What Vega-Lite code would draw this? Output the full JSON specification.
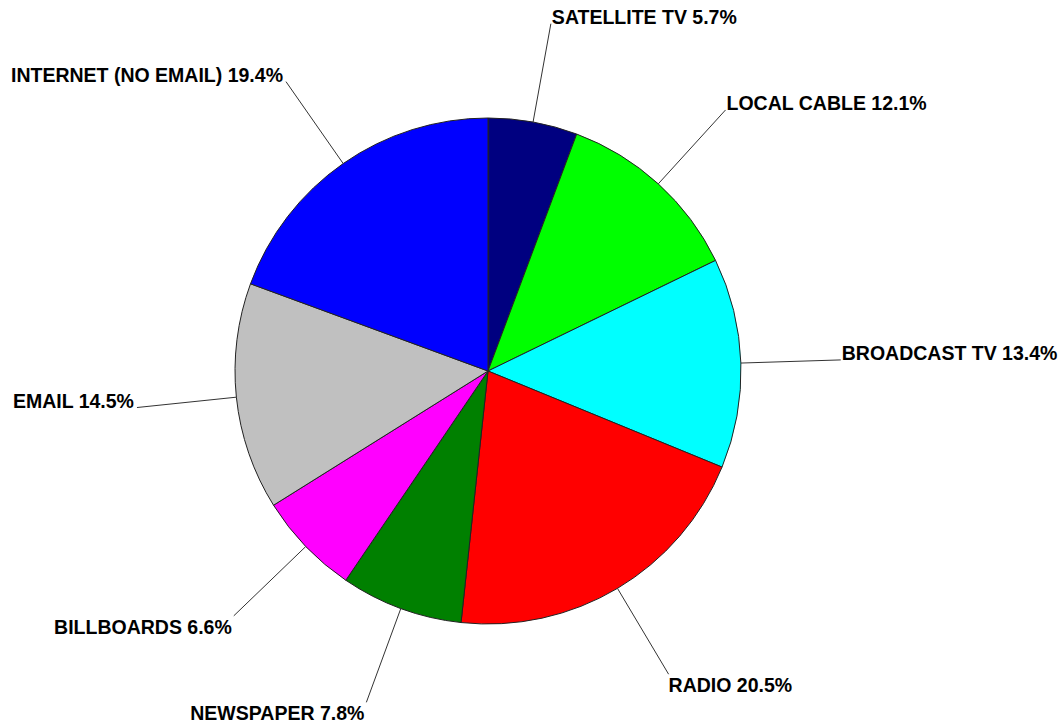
{
  "$schema": "https://vega.github.io/schema/vega-lite/v6.json",
  "width": 1059,
  "height": 725,
  "autosize": {"type": "fit", "contains": "padding"},
  "padding": 0,
  "background": "white",
  "config": {"view": {"stroke": null}},
  "data": {
    "values": [
      {"category": "SATELLITE TV", "share": 5.7, "order": 1},
      {"category": "LOCAL CABLE", "share": 12.1, "order": 2},
      {"category": "BROADCAST TV", "share": 13.4, "order": 3},
      {"category": "RADIO", "share": 20.5, "order": 4},
      {"category": "NEWSPAPER", "share": 7.8, "order": 5},
      {"category": "BILLBOARDS", "share": 6.6, "order": 6},
      {"category": "EMAIL", "share": 14.5, "order": 7},
      {"category": "INTERNET (NO EMAIL)", "share": 19.4, "order": 8}
    ]
  },
  "transform": [
    {"window": [{"op": "sum", "field": "share", "as": "cum"}], "sort": [{"field": "order"}], "frame": [null, 0]},
    {"calculate": "(datum.cum - datum.share / 2) / 100 * 2 * PI", "as": "mid"},
    {"calculate": "sin(datum.mid)", "as": "lx1"},
    {"calculate": "cos(datum.mid)", "as": "ly1"},
    {"calculate": "1.395 * sin(datum.mid)", "as": "lx2"},
    {"calculate": "1.395 * cos(datum.mid)", "as": "ly2"},
    {"calculate": "datum.category + ' ' + format(datum.share, '.1f') + '%'", "as": "label"}
  ],
  "layer": [
    {
      "mark": {"type": "arc", "outerRadius": 253, "stroke": "#222222", "strokeWidth": 1},
      "encoding": {
        "theta": {"field": "share", "type": "quantitative", "stack": true},
        "order": {"field": "order", "type": "quantitative"},
        "color": {
          "field": "category",
          "type": "nominal",
          "scale": {
            "domain": ["SATELLITE TV", "LOCAL CABLE", "BROADCAST TV", "RADIO", "NEWSPAPER", "BILLBOARDS", "EMAIL", "INTERNET (NO EMAIL)"],
            "range": ["#000080", "#00FF00", "#00FFFF", "#FF0000", "#008000", "#FF00FF", "#C0C0C0", "#0000FF"]
          },
          "legend": null
        },
        "x": {"datum": 0, "type": "quantitative", "scale": {"domain": [-1.9289, 2.2569], "nice": false, "zero": false}, "axis": null},
        "y": {"datum": 0, "type": "quantitative", "scale": {"domain": [-1.3992, 1.4664], "nice": false, "zero": false}, "axis": null}
      }
    },
    {
      "mark": {"type": "rule", "color": "#333333", "strokeWidth": 1},
      "encoding": {
        "x": {"field": "lx1", "type": "quantitative", "scale": {"domain": [-1.9289, 2.2569], "nice": false, "zero": false}, "axis": null},
        "y": {"field": "ly1", "type": "quantitative", "scale": {"domain": [-1.3992, 1.4664], "nice": false, "zero": false}, "axis": null},
        "x2": {"field": "lx2"},
        "y2": {"field": "ly2"}
      }
    },
    {
      "transform": [{"filter": "datum.lx2 > 0 && datum.ly2 > -0.5"}],
      "mark": {"type": "text", "align": "left", "baseline": "alphabetic", "dx": 1, "font": "Liberation Sans", "fontWeight": "bold", "fontSize": 19.5, "color": "#000000"},
      "encoding": {
        "x": {"field": "lx2", "type": "quantitative", "axis": null},
        "y": {"field": "ly2", "type": "quantitative", "axis": null},
        "text": {"field": "label", "type": "nominal"}
      }
    },
    {
      "transform": [{"filter": "datum.lx2 > 0 && datum.ly2 <= -0.5"}],
      "mark": {"type": "text", "align": "left", "baseline": "top", "dx": 0, "dy": 3, "font": "Liberation Sans", "fontWeight": "bold", "fontSize": 19.5, "color": "#000000"},
      "encoding": {
        "x": {"field": "lx2", "type": "quantitative", "axis": null},
        "y": {"field": "ly2", "type": "quantitative", "axis": null},
        "text": {"field": "label", "type": "nominal"}
      }
    },
    {
      "transform": [{"filter": "datum.lx2 <= 0 && datum.ly2 <= -0.5"}],
      "mark": {"type": "text", "align": "right", "baseline": "top", "dx": -2, "dy": 3, "font": "Liberation Sans", "fontWeight": "bold", "fontSize": 19.5, "color": "#000000"},
      "encoding": {
        "x": {"field": "lx2", "type": "quantitative", "axis": null},
        "y": {"field": "ly2", "type": "quantitative", "axis": null},
        "text": {"field": "label", "type": "nominal"}
      }
    },
    {
      "transform": [{"filter": "datum.lx2 <= 0 && datum.ly2 > -0.5"}],
      "mark": {"type": "text", "align": "right", "baseline": "alphabetic", "dx": -3, "font": "Liberation Sans", "fontWeight": "bold", "fontSize": 19.5, "color": "#000000"},
      "encoding": {
        "x": {"field": "lx2", "type": "quantitative", "axis": null},
        "y": {"field": "ly2", "type": "quantitative", "axis": null},
        "text": {"field": "label", "type": "nominal"}
      }
    }
  ]
}
